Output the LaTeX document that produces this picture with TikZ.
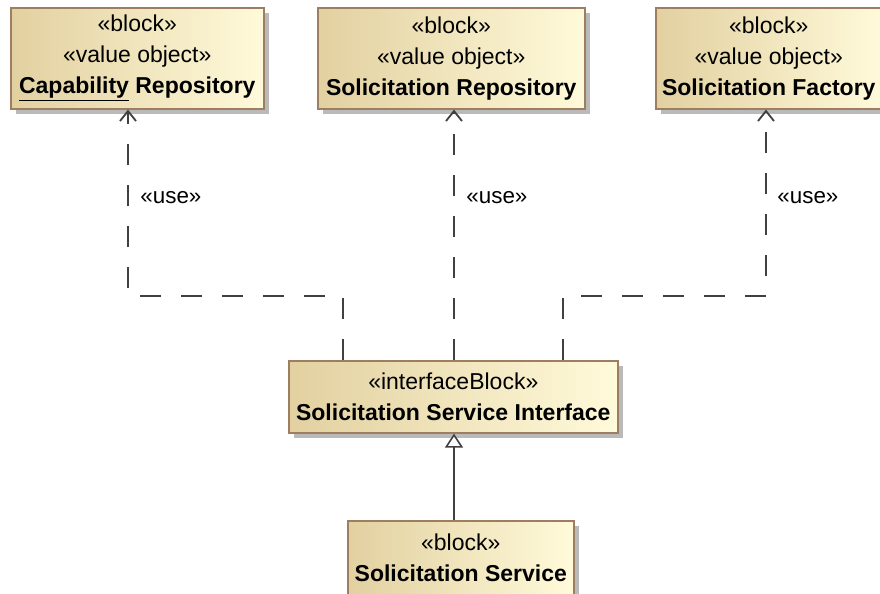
\documentclass[tikz,border=0pt]{standalone}
\usepackage{fontspec}
\setmainfont{Liberation Sans}
\usetikzlibrary{arrows.meta,shadows,calc}
\definecolor{tanD}{RGB}{226,208,160}
\definecolor{tanL}{RGB}{255,250,218}
\definecolor{bordr}{RGB}{158,126,96}
\definecolor{linec}{RGB}{64,64,64}
\tikzset{
  blk/.style={draw=bordr, line width=0.8pt, left color=tanD, right color=tanL,
    drop shadow={shadow xshift=2.5pt, shadow yshift=-2.5pt, fill=black!27, opacity=1},
    anchor=north west, align=center, inner sep=0pt,
    font=\fontsize{11.5pt}{15.5pt}\selectfont},
  usedep/.style={draw=linec, line width=0.9pt, dash pattern=on 10.5pt off 10pt,
    -{Straight Barb[length=5pt,width=8pt,line width=0.9pt]}},
  genl/.style={draw=linec, line width=0.9pt,
    -{Triangle[open,length=7pt,width=9pt,fill=white,line width=0.8pt]}},
  lbl/.style={anchor=west, inner sep=0pt, font=\fontsize{11.2pt}{12pt}\selectfont},
}
\begin{document}
\begin{tikzpicture}[x=0.5pt,y=-0.5pt]
\useasboundingbox (0,0) rectangle (880,594);
\node[blk, minimum width=126.5pt, minimum height=50.5pt] (b1) at (10,7)
  {«block»\\«value object»\\\textbf{\underline{Capability} Repository}};
\node[blk, minimum width=133.5pt, minimum height=50.5pt] (b2) at (317,7)
  {«block»\\«value object»\\\textbf{Solicitation Repository}};
\node[blk, minimum width=113pt, minimum height=50.5pt] (b3) at (655,7)
  {«block»\\«value object»\\\textbf{Solicitation Factory}};
\node[blk, minimum width=164.5pt, minimum height=36pt] (iface) at (288,360)
  {«interfaceBlock»\\\textbf{Solicitation Service Interface}};
\node[blk, minimum width=113pt, minimum height=37pt] (svc) at (347,520)
  {«block»\\\textbf{Solicitation Service}};
\coordinate (l1) at (343,296);
\coordinate (l2) at (128,296);
\coordinate (m1) at (454,296);
\coordinate (r1) at (563,296);
\coordinate (r2) at (766,296);
\draw[usedep] (l1 |- iface.north) -- (l1) -- (l2) -- (l2 |- b1.south);
\draw[usedep] (m1 |- iface.north) -- (m1 |- b2.south);
\draw[usedep] (r1 |- iface.north) -- (r1) -- (r2) -- (r2 |- b3.south);
\draw[genl] (m1 |- svc.north) -- (m1 |- iface.south);
\node[lbl] (u1) at (140,198) {«use»};
\node[lbl] (u2) at (466,198) {«use»};
\node[lbl] (u3) at (777,198) {«use»};
\end{tikzpicture}
\end{document}
